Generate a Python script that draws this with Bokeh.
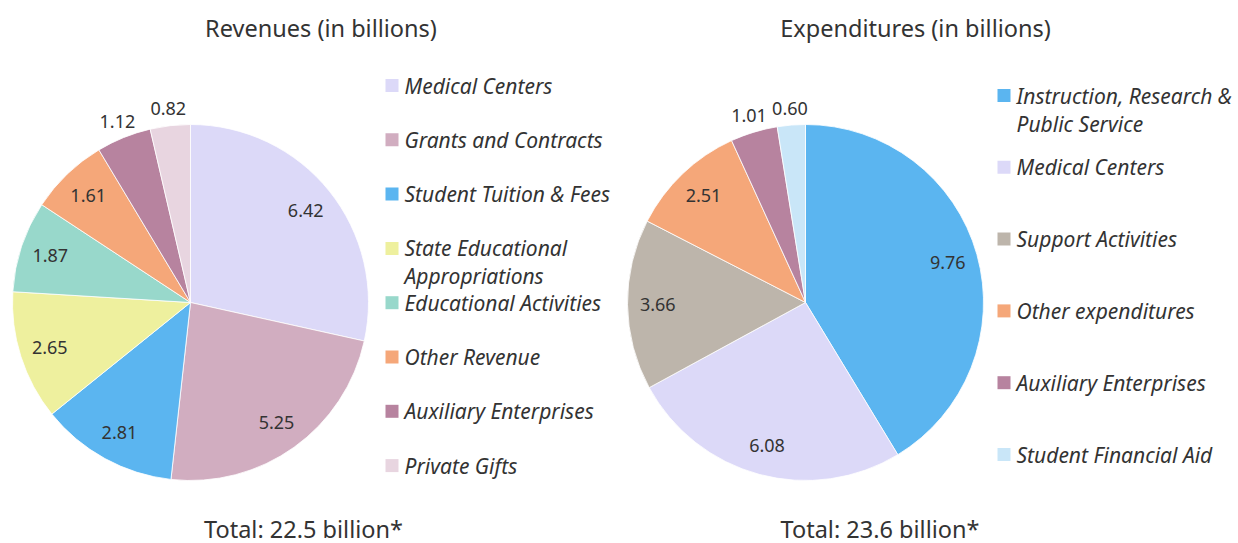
import math
from bokeh.plotting import figure
from bokeh.models import Range1d
from bokeh.core.properties import value
from bokeh.embed import file_html
from bokeh.resources import INLINE

# ---------------- data ----------------
rev_categories = ["Medical Centers", "Grants and Contracts", "Student Tuition & Fees",
                  "State Educational\nAppropriations", "Educational Activities",
                  "Other Revenue", "Auxiliary Enterprises", "Private Gifts"]
rev_values = [6.42, 5.25, 2.81, 2.65, 1.87, 1.61, 1.12, 0.82]
rev_colors = ["#dcd9f8", "#d1adc0", "#5bb5f0", "#eef09e", "#98d8cb", "#f5a779", "#b7839f", "#e8d5e0"]
rev_title = "Revenues (in billions)"
rev_total = "Total: 22.5 billion*"

exp_categories = ["Instruction, Research &\nPublic Service", "Medical Centers",
                  "Support Activities", "Other expenditures",
                  "Auxiliary Enterprises", "Student Financial Aid"]
exp_values = [9.76, 6.08, 3.66, 2.51, 1.01, 0.60]
exp_colors = ["#5bb5f0", "#dcd9f8", "#bdb5ab", "#f5a779", "#b7839f", "#c9e6f8"]
exp_title = "Expenditures (in billions)"
exp_total = "Total: 23.6 billion*"

# ---------------- layout ----------------
W, H = 1238, 543
FONT = "Noto Sans"
TXT = "#333333"


def py(y_page):
    return H - y_page


p = figure(width=W, height=H, output_backend="svg", toolbar_location=None,
           x_range=Range1d(0, W), y_range=Range1d(0, H),
           min_border=0, outline_line_color=None)
p.axis.visible = False
p.grid.visible = False
p.background_fill_color = "white"


def draw_pie(cx, cy_page, r, values, colors, categories, title, total,
             title_x, total_x, leg_x, leg_y0, leg_dy):
    cy = py(cy_page)
    tot = sum(values)
    cum = 0.0
    starts, ends = [], []
    lx, ly, ltxt = [], [], []
    for v in values:
        a0 = math.pi / 2 - 2 * math.pi * cum / tot
        a1 = math.pi / 2 - 2 * math.pi * (cum + v) / tot
        starts.append(a0)
        ends.append(a1)
        mid = (a0 + a1) / 2
        rr = r * 0.83 if v / tot >= 0.05 else r * 1.095
        lx.append(cx + rr * math.cos(mid))
        ly.append(cy + rr * math.sin(mid))
        ltxt.append(f"{v:.2f}")
        cum += v
    p.wedge(x=cx, y=cy, radius=r, start_angle=starts, end_angle=ends,
            direction="clock", fill_color=colors, line_color="white", line_width=0.8)
    p.text(x=lx, y=ly, text=ltxt, text_align="center", text_baseline="middle",
           text_font=value(FONT), text_font_size="18px", text_color=TXT)
    # title / footer
    p.text(x=[title_x], y=[py(27.5)], text=[title], text_align="center",
           text_baseline="middle",
           text_font=value(FONT), text_font_size="23.5px", text_color=TXT)
    p.text(x=[total_x], y=[py(528)], text=[total], text_align="center",
           text_baseline="middle",
           text_font=value(FONT), text_font_size="23.5px", text_color=TXT)
    # legend
    sx, sy, tx, ty, tt = [], [], [], [], []
    for i, (c, lab) in enumerate(zip(colors, categories)):
        yc = leg_y0 + i * leg_dy
        sx.append(leg_x)
        sy.append(py(yc))
        for k, line in enumerate(lab.split("\n")):
            tx.append(leg_x + 12.5)
            ty.append(py(yc + k * 28))
            tt.append(line)
    p.rect(x=sx, y=sy, width=13, height=13, fill_color=colors, line_color=None)
    p.text(x=tx, y=ty, text=tt, text_align="left", text_baseline="middle",
           text_font=value(FONT), text_font_style="italic", text_font_size="21px",
           text_color=TXT)


draw_pie(190, 302, 178, rev_values, rev_colors, rev_categories, rev_title, rev_total,
         320.5, 303, 391.5, 85, 54.3)
draw_pie(805, 302, 178, exp_values, exp_colors, exp_categories, exp_title, exp_total,
         915, 879.5, 1003.5, 95, 71.8)

open("out.html", "w").write(file_html(p, INLINE))
